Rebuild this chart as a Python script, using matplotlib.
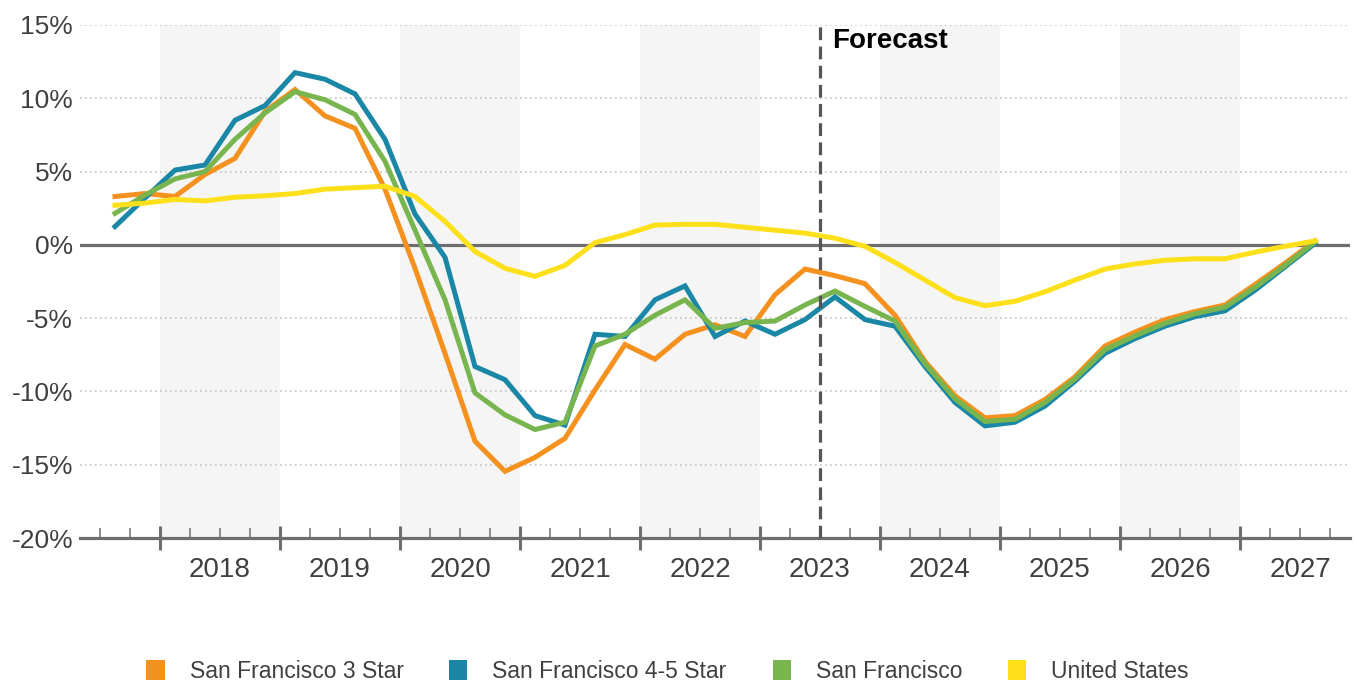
import pandas as pd
import matplotlib.pyplot as plt
from matplotlib.patches import Patch

plt.rcParams['font.family'] = ['Liberation Sans', 'DejaVu Sans']

# quarterly growth, % (2017 Q3 .. 2027 Q3)
quarters = pd.period_range('2017Q3', '2027Q3', freq='Q')
sf_3star = [3.3, 3.5, 3.3, 4.8, 5.9, 9.1, 10.6, 8.8, 7.95, 3.8, -1.6, -7.4, -13.4, -15.45,
            -14.5, -13.2, -9.9, -6.8, -7.8, -6.1, -5.45, -6.25, -3.4, -1.65, -2.1, -2.65,
            -4.8, -7.95, -10.3, -11.8, -11.65, -10.55, -9.0, -6.9, -5.95, -5.1, -4.55,
            -4.1, -2.7, -1.25, 0.27]
sf_45star = [1.25, 3.2, 5.1, 5.45, 8.5, 9.5, 11.75, 11.3, 10.3, 7.2, 2.1, -0.85, -8.3, -9.2,
             -11.65, -12.3, -6.1, -6.25, -3.75, -2.8, -6.25, -5.2, -6.1, -5.1, -3.55, -5.1,
             -5.55, -8.3, -10.75, -12.35, -12.1, -11.0, -9.3, -7.4, -6.4, -5.55, -4.9,
             -4.5, -3.1, -1.5, 0.1]
sf_all = [2.15, 3.4, 4.5, 5.0, 7.2, 9.0, 10.45, 9.9, 8.9, 5.7, 1.0, -3.75, -10.1, -11.6,
          -12.6, -12.1, -6.9, -6.1, -4.8, -3.75, -5.7, -5.3, -5.2, -4.1, -3.15, -4.2,
          -5.2, -8.1, -10.5, -12.05, -11.9, -10.75, -9.15, -7.15, -6.2, -5.35, -4.7,
          -4.25, -2.9, -1.4, 0.2]
us = [2.7, 2.85, 3.1, 3.0, 3.25, 3.35, 3.5, 3.8, 3.9, 4.0, 3.3, 1.6, -0.45, -1.6, -2.15,
      -1.4, 0.15, 0.7, 1.35, 1.4, 1.4, 1.2, 1.0, 0.8, 0.45, -0.1, -1.2, -2.4, -3.6,
      -4.15, -3.85, -3.2, -2.4, -1.65, -1.3, -1.05, -0.95, -0.95, -0.5, -0.1, 0.27]

years = list(range(2018, 2028))
shaded_years = [2018, 2020, 2022, 2024, 2026]
y_ticks = [15, 10, 5, 0, -5, -10, -15, -20]
forecast_start = 2023.5

series = [
    ("San Francisco 3 Star", sf_3star, "#F5911E"),
    ("San Francisco 4-5 Star", sf_45star, "#1B87A6"),
    ("San Francisco", sf_all, "#79B54E"),
    ("United States", us, "#FDE01A"),
]

# x position = middle of each quarter, in fractional years
t = [q.year + (q.quarter - 0.5) / 4 for q in quarters]

fig = plt.figure(figsize=(13.57, 6.83), dpi=100)
ax = fig.add_axes([80 / 1357, 1 - 538 / 683, 1270 / 1357, 513 / 683])

for yr in shaded_years:
    ax.axvspan(yr, yr + 1, color="#f5f5f5", zorder=0, lw=0)

for v in y_ticks:
    if v not in (0, -20):
        ax.axhline(v, color="#c4c4c4", lw=1.2, ls=(0, (1, 2)), zorder=1)
ax.axhline(0, color="#6e6e6e", lw=2.3, zorder=2)

for name, vals, col in series:
    ax.plot(t, vals, color=col, lw=3.6, solid_joinstyle="miter", zorder=3)

ax.axvline(forecast_start, color="#555555", lw=2.3, ls=(0, (4, 2)), zorder=5)
ax.text(forecast_start + 0.1, 13.9, "Forecast", fontsize=20, fontweight="bold",
        color="black", va="center", ha="left")

ax.set_xlim(2018 - 80 / 120, 2018 + 1190 / 120)
ax.set_ylim(-20, 15)

ax.set_yticks(y_ticks)
ax.set_yticklabels([f"{v}%" for v in y_ticks])
ax.tick_params(axis="y", length=0, pad=5, labelsize=19, labelcolor="#404040")

ax.set_xticks(years)
ax.set_xticks([yr + q / 4 for yr in range(2017, 2028) for q in range(4)
               if 2017.4 < yr + q / 4 < 2027.9], minor=True)
ax.tick_params(axis="x", which="major", direction="inout", length=17, width=2.2,
               color="#6e6e6e", labelbottom=False)
ax.tick_params(axis="x", which="minor", direction="in", length=7, width=1.1,
               color="#6e6e6e")

sec = ax.secondary_xaxis("bottom")
sec.set_xticks([yr + 0.5 for yr in years])
sec.set_xticklabels([str(yr) for yr in years])
sec.tick_params(length=0, pad=14, labelsize=20, labelcolor="#404040")
sec.spines["bottom"].set_visible(False)

for s in ["top", "right", "left"]:
    ax.spines[s].set_visible(False)
ax.spines["bottom"].set_color("#6e6e6e")
ax.spines["bottom"].set_linewidth(2.3)

handles = [Patch(facecolor=col, edgecolor="none", label=name) for name, vals, col in series]
fig.legend(handles=handles, loc="center", bbox_to_anchor=(0.4919, 1 - 671 / 683), ncol=4,
           frameon=False, fontsize=16.5, handlelength=0.79, handleheight=0.96,
           handletextpad=1.09, columnspacing=2.0, borderpad=0, borderaxespad=0,
           labelcolor="#404040")

fig.savefig("out.png", dpi=100)
